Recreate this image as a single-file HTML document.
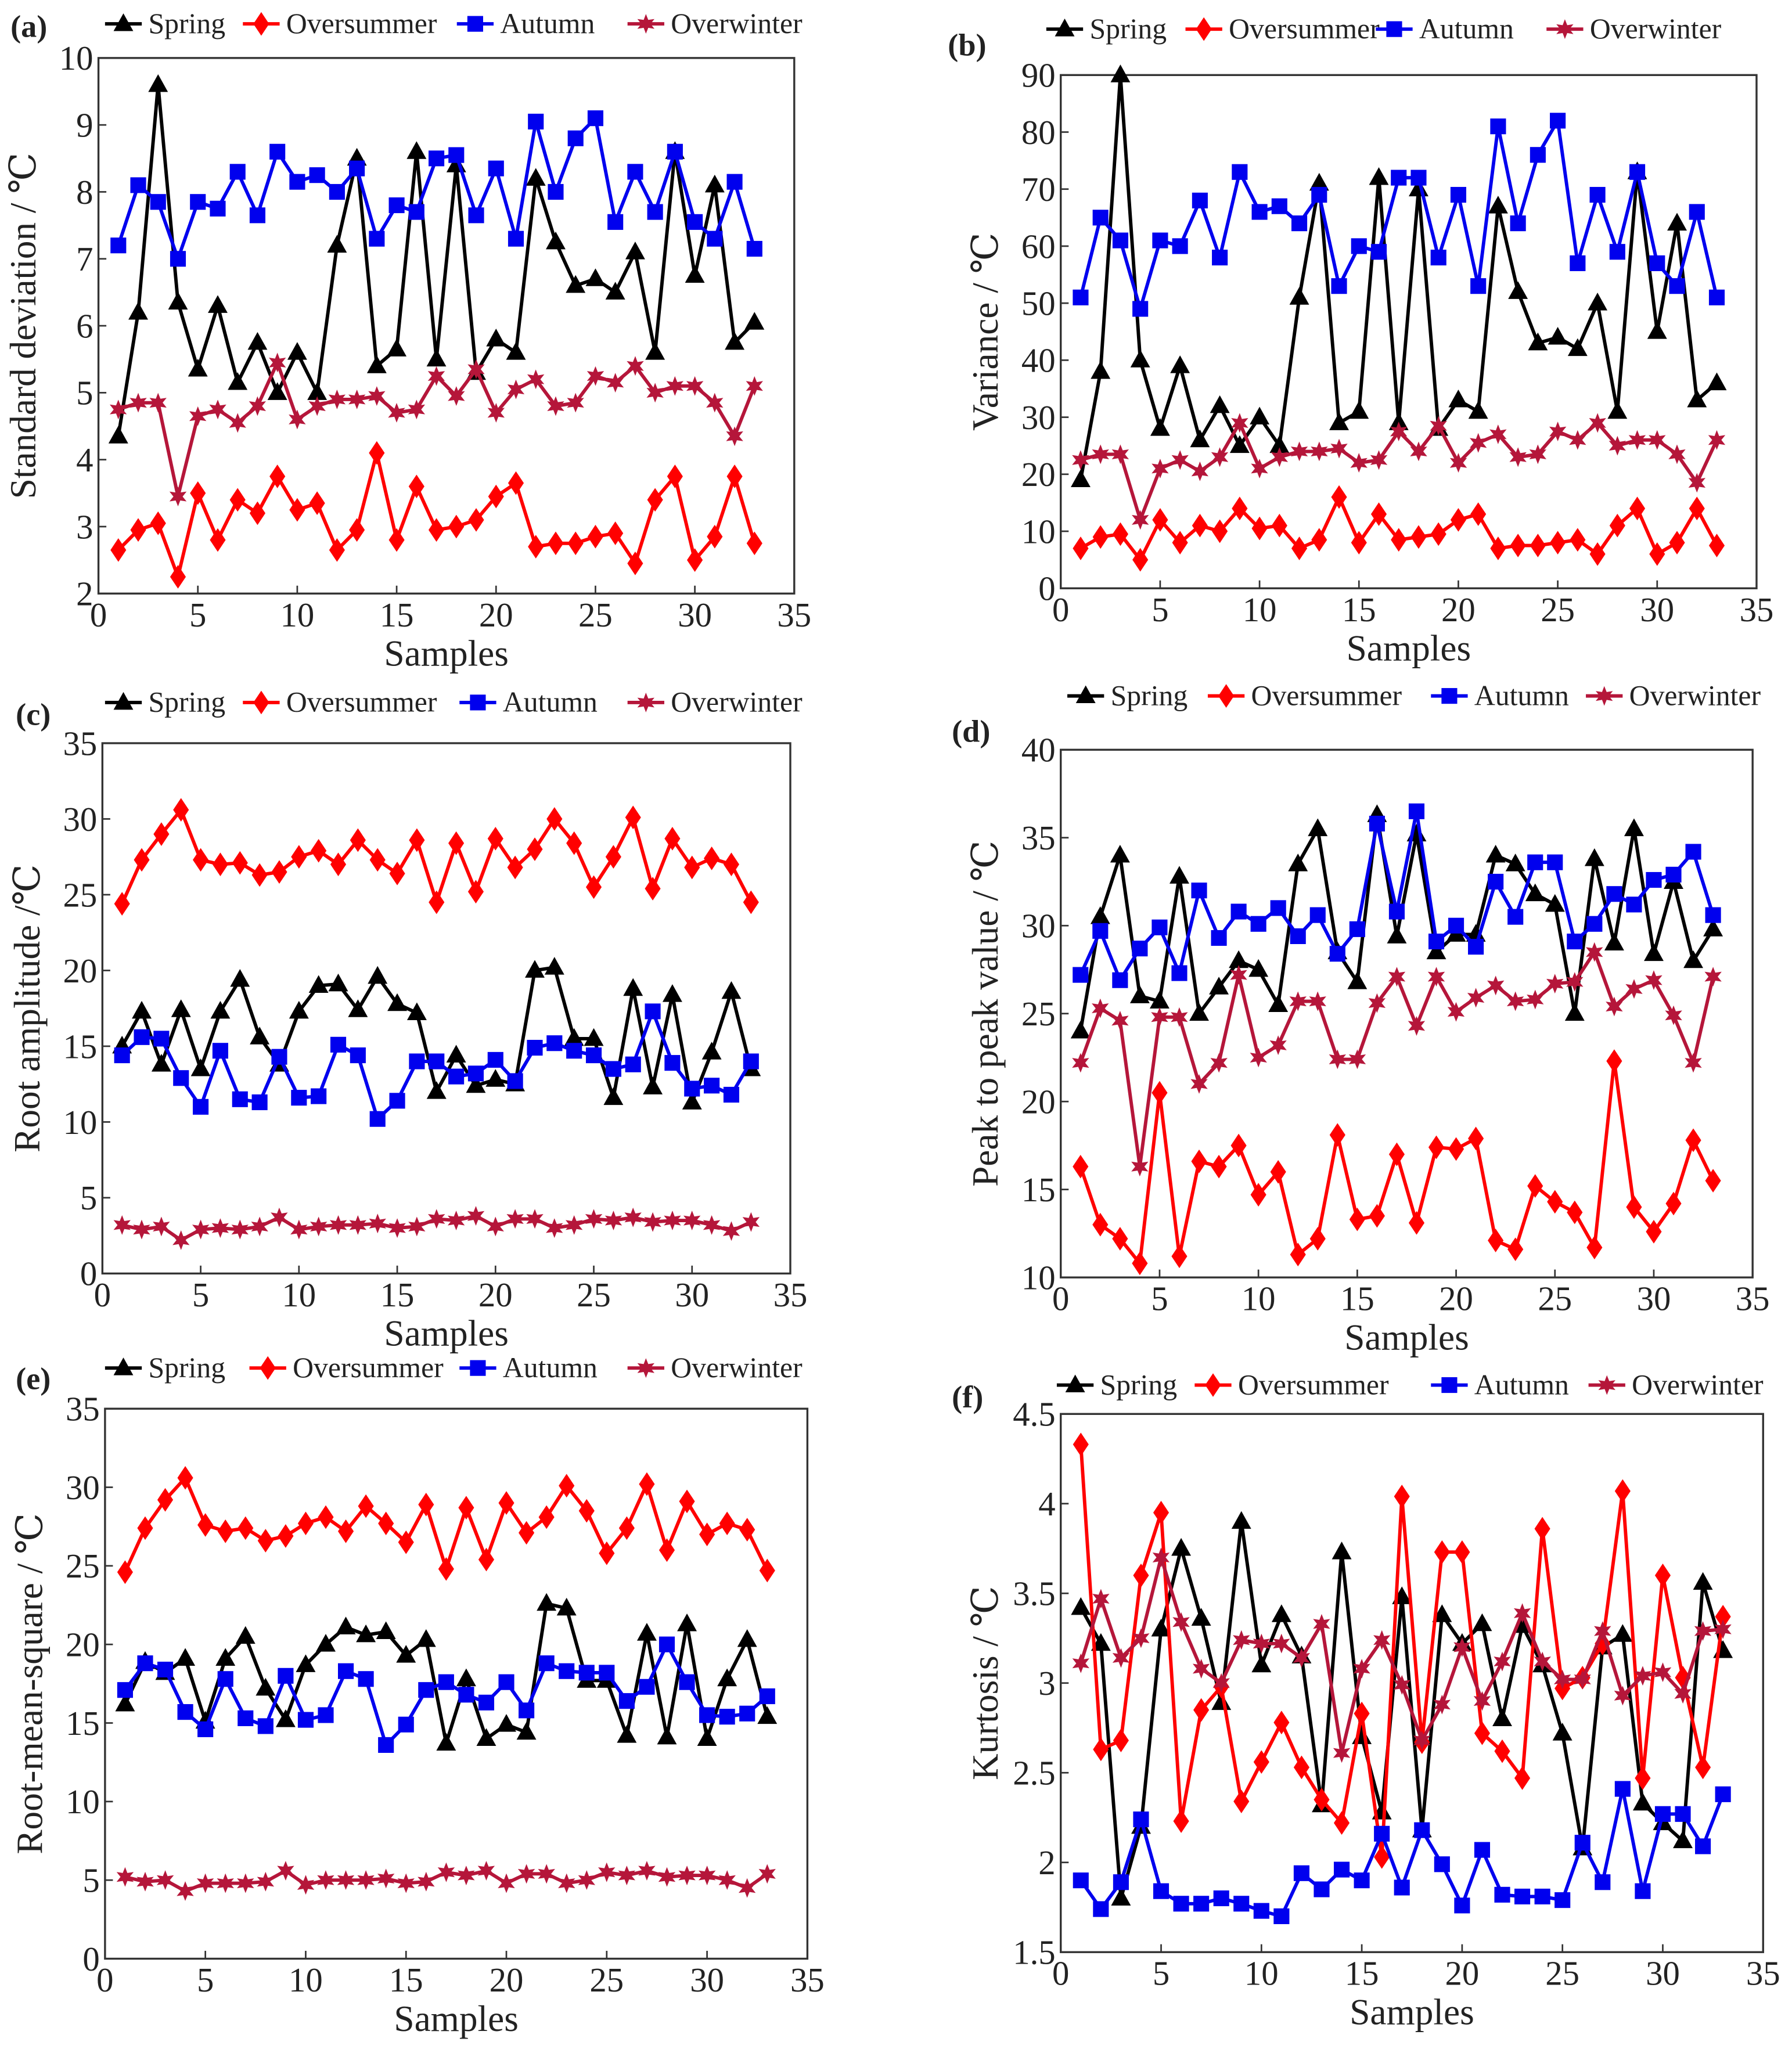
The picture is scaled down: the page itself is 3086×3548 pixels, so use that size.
<!DOCTYPE html>
<html><head><meta charset="utf-8"><style>
html,body{margin:0;padding:0;background:#fff}
svg{display:block}
svg text{font-family:"Liberation Serif","DejaVu Serif",serif;fill:#222}
</style></head><body>
<svg id="fig" width="3086" height="3548" viewBox="0 0 1365 1569" font-family="Liberation Serif, serif" xmlns="http://www.w3.org/2000/svg"></svg>
<script>
const samples = Array.from({length:33},(_,i)=>i+1);
const seriesNames = ["Spring","Oversummer","Autumn","Overwinter"];
const aSpring=[4.35,6.2,9.6,6.35,5.35,6.3,5.15,5.75,5.0,5.6,5.0,7.2,8.5,5.4,5.65,8.6,5.5,8.4,5.3,5.8,5.6,8.2,7.25,6.6,6.7,6.5,7.1,5.6,8.6,6.75,8.1,5.75,6.05];
const aSummer=[2.65,2.95,3.05,2.25,3.5,2.8,3.4,3.2,3.75,3.25,3.35,2.65,2.95,4.1,2.8,3.6,2.95,3.0,3.1,3.45,3.65,2.7,2.75,2.75,2.85,2.9,2.45,3.4,3.75,2.5,2.85,3.75,2.75];
const aAutumn=[7.2,8.1,7.85,7.0,7.85,7.75,8.3,7.65,8.6,8.15,8.25,8.0,8.35,7.3,7.8,7.7,8.5,8.55,7.65,8.35,7.3,9.05,8.0,8.8,9.1,7.55,8.3,7.7,8.6,7.55,7.3,8.15,7.15];
const aWinter=[4.75,4.85,4.85,3.45,4.65,4.75,4.55,4.8,5.45,4.6,4.8,4.9,4.9,4.95,4.7,4.75,5.25,4.95,5.35,4.7,5.05,5.2,4.8,4.85,5.25,5.15,5.4,5.0,5.1,5.1,4.85,4.35,5.1];
const bSpring=[19,38,90,40,28,39,26,32,25,30,25,51,71,29,31,72,29,70,28,33,31,67,52,43,44,42,50,31,73,45,64,33,36];
const bSummer=[7,9,9.5,5,12,8,11,10,14,10.5,11,7,8.5,16,8,13,8.5,9,9.5,12,13,7,7.5,7.5,8,8.5,6,11,14,6,8,14,7.5];
const bAutumn=[51,65,61,49,61,60,68,58,73,66,67,64,69,53,60,59,72,72,58,69,53,81,64,76,82,57,69,59,73,57,53,66,51];
const bWinter=[22.5,23.5,23.5,12,21,22.5,20.5,23,29,21,23,24,24,24.5,22,22.5,27.5,24,28.5,22,25.5,27,23,23.5,27.5,26,29,25,26,26,23.5,18.5,26];
const cSpring=[15,17.3,13.8,17.4,13.5,17.3,19.4,15.6,13.8,17.3,19,19.1,17.4,19.6,17.8,17.2,12,14.4,12.4,12.8,12.5,20,20.2,15.5,15.5,11.6,18.8,12.3,18.4,11.3,14.6,18.6,13.5];
const cSummer=[24.4,27.3,29,30.6,27.3,27,27.1,26.3,26.5,27.5,27.9,27,28.6,27.3,26.4,28.6,24.5,28.4,25.2,28.7,26.8,28,30,28.4,25.5,27.5,30.1,25.4,28.7,26.8,27.4,27,24.5];
const cAutumn=[14.4,15.6,15.5,12.9,11,14.7,11.5,11.3,14.3,11.6,11.7,15.1,14.4,10.2,11.4,14,14,13,13.2,14.1,12.7,14.9,15.2,14.7,14.4,13.5,13.8,17.3,13.9,12.2,12.4,11.8,14];
const cWinter=[3.2,2.9,3.1,2.2,2.9,3,2.9,3.1,3.7,2.9,3.1,3.2,3.2,3.3,3,3.1,3.6,3.5,3.8,3.1,3.6,3.6,3,3.2,3.6,3.5,3.7,3.4,3.5,3.5,3.2,2.8,3.4];
const dSpring=[24,30.5,34,26,25.7,32.8,25,26.5,28,27.5,25.5,33.5,35.5,28.5,26.8,36.3,29.4,35.2,28.5,29.5,29.5,34,33.5,31.8,31.2,25,33.8,29,35.5,28.4,32.5,28,29.8];
const dSummer=[16.3,13,12.2,10.8,20.5,11.2,16.6,16.3,17.5,14.7,16,11.3,12.2,18.1,13.3,13.5,17,13.1,17.4,17.3,17.9,12.1,11.6,15.2,14.3,13.7,11.7,22.3,14,12.6,14.2,17.8,15.5];
const dAutumn=[27.2,29.7,26.9,28.7,29.9,27.3,32,29.3,30.8,30.1,31,29.4,30.6,28.4,29.8,35.8,30.8,36.5,29.1,30,28.8,32.5,30.5,33.6,33.6,29.1,30.1,31.8,31.2,32.6,32.9,34.2,30.6];
const dWinter=[22.2,25.3,24.6,16.3,24.8,24.8,21,22.2,27.2,22.5,23.2,25.7,25.7,22.4,22.4,25.6,27.1,24.3,27.1,25.1,25.9,26.6,25.7,25.8,26.7,26.8,28.5,25.4,26.4,26.9,24.9,22.2,27.1];
const eSpring=[16.2,18.9,18.2,19.1,15.1,19.1,20.5,17.2,15.2,18.7,20,21.1,20.6,20.8,19.3,20.3,13.7,17.8,14,14.9,14.4,22.6,22.3,17.7,17.7,14.2,20.7,14.1,21.3,14,17.8,20.3,15.4];
const eSummer=[24.6,27.4,29.2,30.6,27.6,27.2,27.4,26.6,26.9,27.7,28.1,27.2,28.8,27.7,26.5,28.9,24.8,28.7,25.4,29,27.1,28.1,30.1,28.5,25.8,27.4,30.2,26,29.1,27,27.7,27.3,24.7];
const eAutumn=[17.1,18.8,18.4,15.7,14.6,17.8,15.3,14.8,18,15.2,15.5,18.3,17.8,13.6,14.9,17.1,17.6,16.8,16.3,17.6,15.8,18.8,18.3,18.2,18.2,16.4,17.3,20,17.6,15.5,15.4,15.6,16.7];
const eWinter=[5.2,4.9,5,4.3,4.8,4.8,4.8,4.9,5.6,4.7,5,5,5,5.1,4.8,4.9,5.5,5.3,5.6,4.8,5.4,5.4,4.8,5,5.5,5.3,5.6,5.2,5.3,5.3,5,4.5,5.4];
const fSpring=[3.42,3.22,1.8,2.2,3.3,3.75,3.36,2.89,3.9,3.1,3.38,3.15,2.32,3.73,2.7,2.28,3.48,2.18,3.38,3.22,3.33,2.8,3.32,3.1,2.72,2.08,3.2,3.27,2.33,2.22,2.12,3.56,3.18];
const fSummer=[4.33,2.63,2.68,3.6,3.95,2.23,2.85,2.98,2.34,2.56,2.78,2.53,2.35,2.22,2.83,2.03,4.04,2.67,3.73,3.73,2.72,2.62,2.47,3.86,2.97,3.03,3.22,4.07,2.47,3.6,3.03,2.53,3.37];
const fAutumn=[1.9,1.74,1.89,2.24,1.84,1.77,1.77,1.8,1.77,1.73,1.7,1.94,1.85,1.96,1.9,2.16,1.86,2.18,1.99,1.76,2.07,1.82,1.81,1.81,1.79,2.11,1.89,2.41,1.84,2.27,2.27,2.09,2.38];
const fWinter=[3.11,3.47,3.14,3.25,3.7,3.34,3.08,3.0,3.24,3.22,3.22,3.14,3.33,2.61,3.08,3.24,2.99,2.68,2.88,3.2,2.9,3.12,3.39,3.12,3.02,3.02,3.29,2.93,3.04,3.06,2.94,3.29,3.3];
const xTicks=[0,5,10,15,20,25,30,35];
const aTicks=[2,3,4,5,6,7,8,9,10];
const bTicks=[0,10,20,30,40,50,60,70,80,90];
const cTicks=[0,5,10,15,20,25,30,35];
const dTicks=[10,15,20,25,30,35,40];
const eTicks=[0,5,10,15,20,25,30,35];
const fTicks=[1.5,2,2.5,3,3.5,4,4.5];

const colors=["#000000","#ff0000","#0000ee","#b5163a"];
const markers=["tri","dia","sq","star"];
const NS="http://www.w3.org/2000/svg";
const FF="Liberation Serif, DejaVu Serif, serif";
const svg=document.getElementById('fig');
function el(tag,attrs,parent){const e=document.createElementNS(NS,tag);for(const k in attrs)e.setAttribute(k,attrs[k]);if(tag==='text')e.setAttribute('font-family',FF);(parent||svg).appendChild(e);return e;}
function marker(type,x,y,c,g){
  let e;
  if(type==="tri") e=el('polygon',{points:`${x},${y-8} ${x-7.5},${y+5.5} ${x+7.5},${y+5.5}`,fill:c},g);
  else if(type==="dia") e=el('polygon',{points:`${x},${y-9} ${x+6},${y} ${x},${y+9} ${x-6},${y}`,fill:c},g);
  else if(type==="sq") e=el('rect',{x:x-6,y:y-6,width:12,height:12,fill:c},g);
  else { let p=[];for(let i=0;i<12;i++){const r=i%2?3.5:7.5,a=Math.PI*i/6-Math.PI/2;p.push((x+r*Math.cos(a)).toFixed(1)+','+(y+r*Math.sin(a)).toFixed(1));} e=el('polygon',{points:p.join(' '),fill:c},g);}
  return e;
}
const panels=[
 {id:'a',L:75,R:605,T:44,B:452,ymin:2,ymax:10,ticks:aTicks,data:[aSpring,aSummer,aAutumn,aWinter],ylab:'Standard deviation / ℃',lab:[8,28],leg:[80,18,[80,185,348,478]]},
 {id:'b',L:808,R:1338,T:57,B:448,ymin:0,ymax:90,ticks:bTicks,data:[bSpring,bSummer,bAutumn,bWinter],ylab:'Variance / ℃',lab:[722,42],leg:[797,22,[797,903,1048,1178]]},
 {id:'c',L:78,R:602,T:566,B:970,ymin:0,ymax:35,ticks:cTicks,data:[cSpring,cSummer,cAutumn,cWinter],ylab:'Root amplitude /℃',lab:[12,552],leg:[80,535,[80,185,350,478]]},
 {id:'d',L:808,R:1335,T:571,B:973,ymin:10,ymax:40,ticks:dTicks,data:[dSpring,dSummer,dAutumn,dWinter],ylab:'Peak to peak value / ℃',lab:[725,565],leg:[813,530,[813,920,1090,1208]]},
 {id:'e',L:80,R:615,T:1073,B:1492,ymin:0,ymax:35,ticks:eTicks,data:[eSpring,eSummer,eAutumn,eWinter],ylab:'Root-mean-square / ℃',lab:[12,1058],leg:[80,1042,[80,190,350,478]]},
 {id:'f',L:808,R:1343,T:1077,B:1487,ymin:1.5,ymax:4.5,ticks:fTicks,data:[fSpring,fSummer,fAutumn,fWinter],ylab:'Kurtosis / ℃',lab:[725,1072],leg:[805,1055,[805,910,1090,1210]]}
];
panels.forEach(p=>{
  const g=el('g',{});
  
  
  const xs=v=>p.L+(v-0)/35*(p.R-p.L);
  const ys=v=>p.B-(v-p.ymin)/(p.ymax-p.ymin)*(p.B-p.T);
  const frame=el('rect',{x:p.L,y:p.T,width:p.R-p.L,height:p.B-p.T,fill:'none',stroke:'#333','stroke-width':1.5},g);
  
  
  xTicks.forEach(t=>{
    el('line',{x1:xs(t),x2:xs(t),y1:p.B,y2:p.B-6,stroke:'#333','stroke-width':1.2},g);
    const tx=el('text',{x:xs(t),y:p.B+25,'font-size':26,'text-anchor':'middle'},g);tx.textContent=t;
    
    
  });
  p.ticks.forEach(t=>{
    el('line',{x1:p.L,x2:p.L+6,y1:ys(t),y2:ys(t),stroke:'#333','stroke-width':1.2},g);
    const tx=el('text',{x:p.L-4,y:ys(t)+9,'font-size':26,'text-anchor':'end'},g);tx.textContent=t;
    
    
  });
  const xl=el('text',{x:(p.L+p.R)/2,y:p.B+55,'font-size':28,'text-anchor':'middle'},g);xl.textContent='Samples';
  
  
  const yx=p.L-48, yy=(p.T+p.B)/2;
  const yl=el('text',{x:yx,y:yy,'font-size':28,'text-anchor':'middle',transform:`rotate(-90 ${yx} ${yy})`},g);yl.textContent=p.ylab;
  
  
  const pl=el('text',{x:p.lab[0],y:p.lab[1],'font-size':24,'font-weight':'bold'},g);pl.textContent='('+p.id+')';
  
  
  p.data.forEach((arr,si)=>{
    const sg=el('g',{},g);
    
    
    el('polyline',{points:arr.map((v,i)=>xs(samples[i])+','+ys(v)).join(' '),fill:'none',stroke:colors[si],'stroke-width':2.6,'stroke-linejoin':'round'},sg);
    arr.forEach((v,i)=>{const m=marker(markers[si],xs(samples[i]),ys(v),colors[si],sg);
      
      });
  });
  const lg=el('g',{},g);
  
  
  const ly=p.leg[1];
  p.leg[2].forEach((x0,si)=>{
    const eg=el('g',{},lg);
    
    
    el('line',{x1:x0,x2:x0+28,y1:ly,y2:ly,stroke:colors[si],'stroke-width':2.6},eg);
    marker(markers[si],x0+14,ly,colors[si],eg);
    const t=el('text',{x:x0+33,y:ly+7,'font-size':22},eg);t.textContent=seriesNames[si];
  });
});
</script>
</body></html>
